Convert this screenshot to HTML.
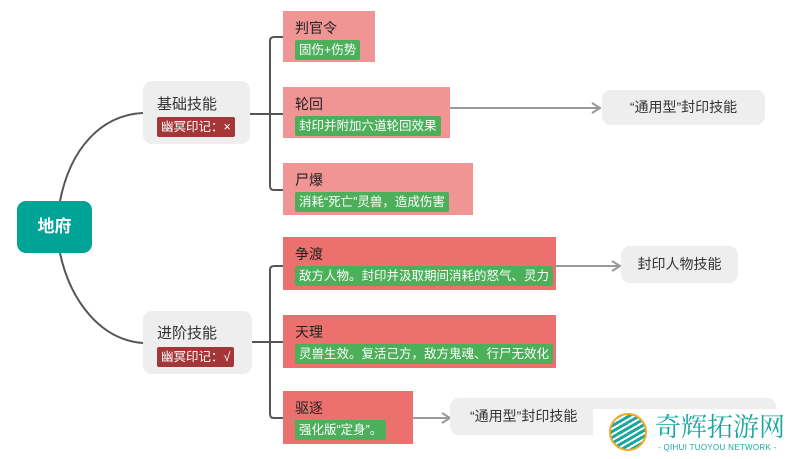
<!DOCTYPE html>
<html><head><meta charset="utf-8"><style>
body{margin:0;width:794px;height:459px;background:#fff;position:relative;overflow:hidden;font-family:"Liberation Sans","Noto Sans CJK SC",sans-serif;}
.a{position:absolute;box-sizing:border-box;}
.grey{background:#eeeeee;border-radius:9px;color:#333;}
.red1{background:#f09593;}
.red2{background:#ec716e;}
.t{position:absolute;left:12px;top:7px;font-size:14px;color:#222;}
.g{position:absolute;left:12px;top:29px;height:20px;line-height:20px;background:#4caf5a;color:#fff;font-size:12.5px;padding:0 4px;border-radius:2px;white-space:nowrap;}
.m{background:#a33636;color:#fff;font-size:12.5px;height:20px;line-height:20px;padding:0 4px;border-radius:2px;position:absolute;left:14px;top:36px;white-space:nowrap;}
</style></head><body>
<svg class="a" style="left:0;top:0" width="794" height="459">
<g fill="none" stroke="#555" stroke-width="2">
<path d="M60 201 C70 150,100 115,143 113"/>
<path d="M60 253 C70 300,100 340,143 343"/>
<path d="M250 114 H283"/>
<path d="M283 37 H274 Q270 37 270 41 V186 Q270 190 274 190 H283"/>
<path d="M252 342 H283"/>
<path d="M283 266 H274 Q270 266 270 270 V414 Q270 418 274 418 H283"/>
</g>
<g fill="none" stroke="#999" stroke-width="2">
<path d="M450 108 H600"/><path d="M592 103 L600 108 L592 113"/>
<path d="M556 266 H620"/><path d="M612 261 L620 266 L612 271"/>
<path d="M413 418 H450"/><path d="M442 413 L450 418 L442 423"/>
</g>
</svg>
<div class="a" style="left:17px;top:201px;width:75px;height:52px;background:#00a497;border-radius:9px;color:#fff;font-weight:bold;font-size:17px;text-align:center;line-height:52px;">地府</div>
<div class="a grey" style="left:143px;top:81px;width:107px;height:63px;"><div style="position:absolute;left:14px;top:12px;font-size:15px;">基础技能</div><div class="m">幽冥印记：×</div></div>
<div class="a grey" style="left:143px;top:311px;width:109px;height:63px;"><div style="position:absolute;left:14px;top:11px;font-size:15px;">进阶技能</div><div class="m">幽冥印记：√</div></div>
<div class="a red1" style="left:283px;top:11px;width:92px;height:51px;"><div class="t">判官令</div><div class="g">固伤+伤势</div></div>
<div class="a red1" style="left:283px;top:87px;width:167px;height:51px;"><div class="t">轮回</div><div class="g">封印并附加六道轮回效果</div></div>
<div class="a red1" style="left:283px;top:163px;width:190px;height:52px;"><div class="t">尸爆</div><div class="g">消耗“死亡”灵兽，造成伤害</div></div>
<div class="a red2" style="left:283px;top:237px;width:273px;height:53px;"><div class="t">争渡</div><div class="g">敌方人物。封印并汲取期间消耗的怒气、灵力</div></div>
<div class="a red2" style="left:283px;top:315px;width:273px;height:53px;"><div class="t">天理</div><div class="g">灵兽生效。复活己方，敌方鬼魂、行尸无效化</div></div>
<div class="a red2" style="left:283px;top:391px;width:130px;height:53px;"><div class="t">驱逐</div><div class="g">强化版“定身”。</div></div>
<div class="a grey" style="left:602px;top:90px;width:163px;height:35px;line-height:35px;text-align:center;font-size:14px;">“通用型”封印技能</div>
<div class="a grey" style="left:621px;top:246px;width:117px;height:37px;line-height:37px;text-align:center;font-size:14px;">封印人物技能</div>
<div class="a grey" style="left:450px;top:398px;width:326px;height:37px;line-height:37px;font-size:14px;padding-left:20px;">“通用型”封印技能</div>
<div class="a" style="left:593px;top:409px;width:201px;height:50px;background:#fff;"></div>
<div class="a" style="left:609px;top:413px;width:38px;height:38px;border-radius:50%;border:2px solid #f5a623;background:repeating-linear-gradient(-30deg,#1aa7a0 0 3px,#fff 3px 5px);"></div>
<div class="a" style="left:655px;top:410px;font-size:26px;color:#1aa7a0;font-family:'Noto Serif CJK SC',serif;line-height:32px;">奇辉拓游网</div>
<div class="a" style="left:658px;top:443px;font-size:8px;color:#1aa7a0;letter-spacing:0.3px;">- QIHUI TUOYOU NETWORK -</div>
</body></html>
